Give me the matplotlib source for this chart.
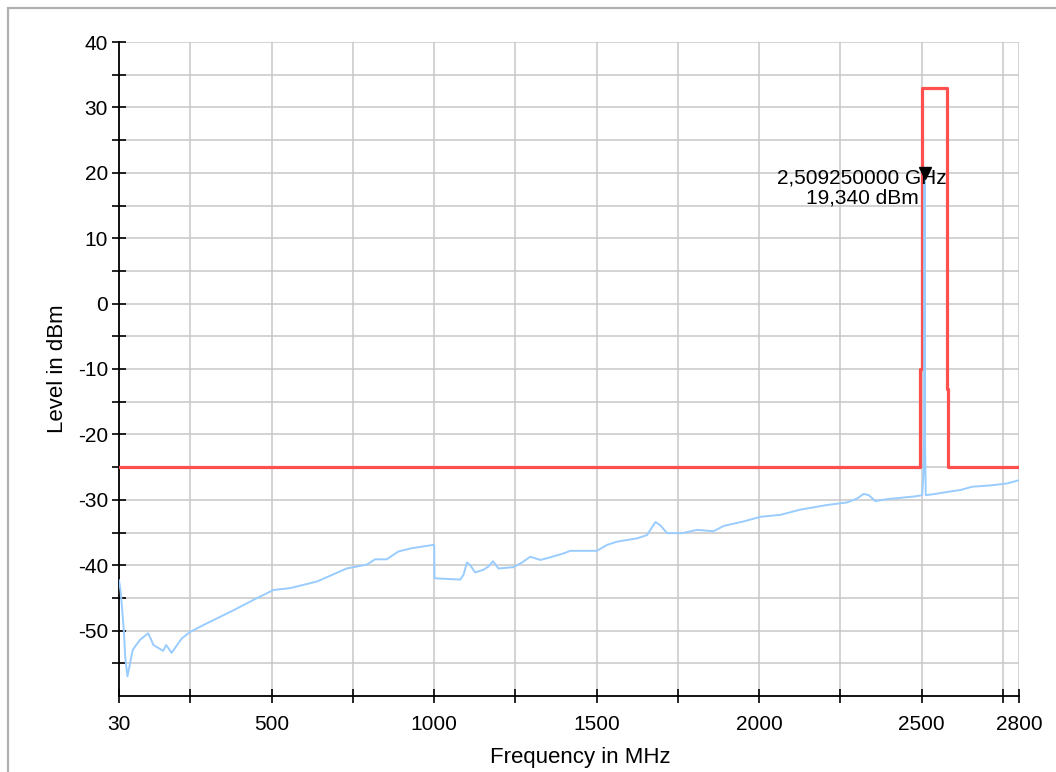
import matplotlib
matplotlib.use('Agg')
import matplotlib.pyplot as plt
from matplotlib.patches import Rectangle
import numpy as np

plt.rcParams['font.family'] = ['Liberation Sans', 'DejaVu Sans']
plt.rcParams['axes.unicode_minus'] = False

freq_mhz = [30, 35, 39, 45, 49, 56, 62, 72, 80, 95, 120, 136, 166, 175, 192, 223, 249,
            300, 382, 444, 505, 557, 639, 731, 793, 818, 854, 890, 931, 997, 1000,
            1001, 1080, 1090, 1101, 1111, 1126, 1152, 1167, 1181, 1198, 1244, 1270,
            1296, 1327, 1357, 1398, 1419, 1501, 1532, 1563, 1624, 1655, 1681, 1696,
            1717, 1763, 1809, 1860, 1891, 1953, 2004, 2066, 2127, 2209, 2271, 2302,
            2322, 2338, 2358, 2394, 2476, 2502, 2506, 2508, 2509.25, 2510.5, 2513,
            2543, 2579, 2620, 2656, 2712, 2764, 2800]
level_dbm = [-42.3, -44.0, -46.3, -50.1, -54.0, -57.0, -55.5, -53.0, -52.4, -51.4, -50.4,
             -52.2, -53.1, -52.2, -53.4, -51.2, -50.2, -48.9, -46.9, -45.3, -43.8, -43.5,
             -42.5, -40.5, -39.9, -39.1, -39.1, -37.9, -37.4, -36.9, -36.9, -42.0, -42.2,
             -41.5, -39.6, -40.0, -41.1, -40.7, -40.2, -39.4, -40.5, -40.3, -39.6, -38.7,
             -39.2, -38.8, -38.2, -37.8, -37.8, -36.9, -36.4, -35.9, -35.4, -33.4, -33.9,
             -35.1, -35.1, -34.6, -34.8, -34.0, -33.3, -32.6, -32.3, -31.5, -30.8, -30.4,
             -29.8, -29.1, -29.3, -30.2, -29.9, -29.5, -29.3, -26.0, -20.0, 19.34, -20.0,
             -29.3, -29.1, -28.8, -28.5, -28.0, -27.8, -27.5, -27.0]

# limit line
limit_freq = [30, 2495, 2495, 2500, 2500, 2578, 2578, 2583, 2583, 2800]
limit_level = [-25, -25, -10, -10, 33, 33, -13, -13, -25, -25]

# peak marker
marker_freq = 2509.25
marker_level = 19.34
marker_text = '2,509250000 GHz\n19,340 dBm'

x_major = [30, 500, 1000, 1500, 2000, 2500, 2800]
x_minor = [250, 750, 1250, 1750, 2250, 2750]
y_major = [-50, -40, -30, -20, -10, 0, 10, 20, 30, 40]
y_minor = [-55, -45, -35, -25, -15, -5, 5, 15, 25, 35]

fig = plt.figure(figsize=(10.56, 7.72), dpi=100)
ax = fig.add_axes([119/1056, 1 - 696/772, 900/1056, 654/772])

# grey frame round the figure (only top and left show)
fig.patches.append(Rectangle((8/1056, -0.1), 1.2, 1 - 8/772 + 0.1, transform=fig.transFigure,
                             fill=False, edgecolor='#b0b0b0', linewidth=1.6))

ax.plot(limit_freq, limit_level, color='#ff5050', linewidth=2.3, zorder=3)
ax.plot(freq_mhz, level_dbm, color='#99ccff', linewidth=1.4, zorder=4)
ax.plot([marker_freq], [marker_level + 0.6], marker='v', color='black', markersize=9, zorder=5)
ax.annotate(marker_text, xy=(marker_freq, marker_level), xytext=(-45, -8),
            textcoords='offset points', ha='center', va='center', fontsize=15,
            multialignment='center', linespacing=1.1, zorder=6)

ax.set_xlim(30, 2800)
ax.set_ylim(-60, 40)
ax.set_xticks(x_major)
ax.set_xticks(x_minor, minor=True)
ax.set_yticks(y_major)
ax.set_yticks(y_minor, minor=True)
ax.grid(True, which='both', color='#c8c8c8', linewidth=1.1, zorder=0)
ax.set_axisbelow(True)

for s in ['top', 'right']:
    ax.spines[s].set_visible(False)
for s in ['left', 'bottom']:
    ax.spines[s].set_linewidth(1.3)

ax.tick_params(which='both', direction='inout', length=10, width=1.2, labelsize=15)
ax.tick_params(axis='x', pad=9)
ax.tick_params(axis='y', pad=3)

ax.set_xlabel('Frequency in MHz', fontsize=16)
ax.set_ylabel('Level in dBm', fontsize=16)
ax.xaxis.set_label_coords((580 - 119) / 900, -(758 - 696) / 654)
ax.yaxis.set_label_coords(-(119 - 58) / 900, 0.5)
ax.xaxis.label.set_va('center')
ax.yaxis.label.set_va('center')

plt.savefig('out.png', dpi=100)
plt.close()
